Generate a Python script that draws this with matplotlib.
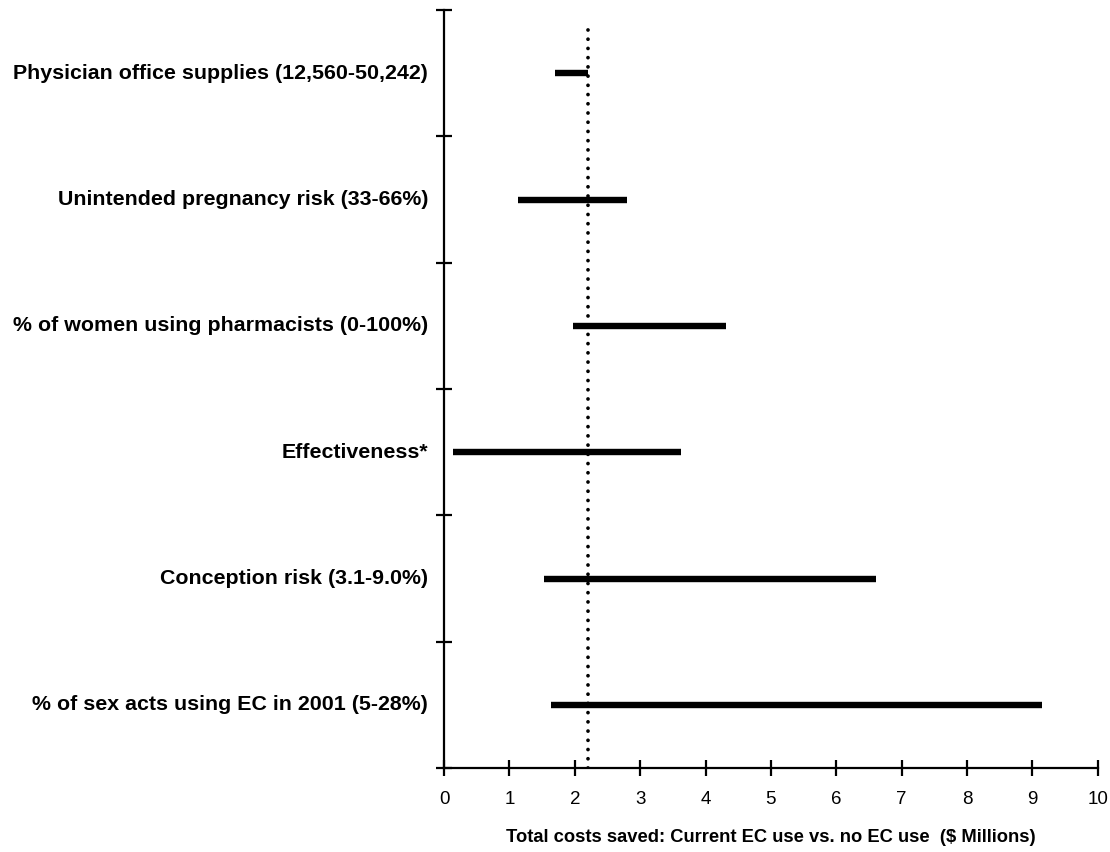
import matplotlib
matplotlib.use("Agg")
import matplotlib.pyplot as plt
from matplotlib import font_manager

# one-way sensitivity analysis, top to bottom as in the figure
labels = [
    "Physician office supplies (12,560-50,242)",
    "Unintended pregnancy risk (33-66%)",
    "% of women using pharmacists (0-100%)",
    "Effectiveness*",
    "Conception risk (3.1-9.0%)",
    "% of sex acts using EC in 2001 (5-28%)",
]
low_values = [1.70, 1.13, 1.97, 0.14, 1.53, 1.64]
high_values = [2.21, 2.80, 4.31, 3.63, 6.61, 9.14]
base_value = 2.21

x_ticks = list(range(0, 11))
x_label = "Total costs saved: Current EC use vs. no EC use  ($ Millions)"

label_font = ["Liberation Sans", "DejaVu Sans"]

# a narrow face for the axis numbers if one is around
names = {f.name for f in font_manager.fontManager.ttflist}
narrow = [n for n in ("Liberation Sans Narrow", "Arial Narrow") if n in names]
narrow_font = narrow + ["Liberation Sans", "DejaVu Sans"]

fig = plt.figure(figsize=(11.1, 8.52), dpi=100)
ax = fig.add_axes([0.40, 0.0986, 0.589, 0.8896])

n = len(labels)
for i, (lo, hi) in enumerate(zip(low_values, high_values)):
    y = n - i - 0.5
    ax.plot([lo, hi], [y, y], color="black", lw=4.6, solid_capstyle="butt")

# base case line
ax.plot([base_value, base_value], [0, n - 0.1], color="black", lw=2.7,
        linestyle=(0, (0.01, 2.45)), dash_capstyle="round")

ax.set_xlim(0, 10)
ax.set_ylim(0, n)
ax.set_xticks(x_ticks)
ax.set_xticklabels([str(t) for t in x_ticks], family=narrow_font, fontsize=13.5)
ax.set_yticks(range(0, n + 1))
ax.set_yticklabels([])

for i, lab in enumerate(labels):
    ax.text(-0.24, n - i - 0.5, lab, ha="right", va="center",
            fontsize=15.4, fontweight="bold", family=label_font)

ax.set_xlabel(x_label, family=narrow_font, fontsize=13.2, fontweight="bold",
              labelpad=15)

for side in ("top", "right"):
    ax.spines[side].set_visible(False)
for side in ("left", "bottom"):
    ax.spines[side].set_linewidth(1.6)

ax.tick_params(axis="both", direction="inout", length=11, width=1.6)
ax.tick_params(axis="x", pad=11)

fig.savefig("out.png", dpi=100)
